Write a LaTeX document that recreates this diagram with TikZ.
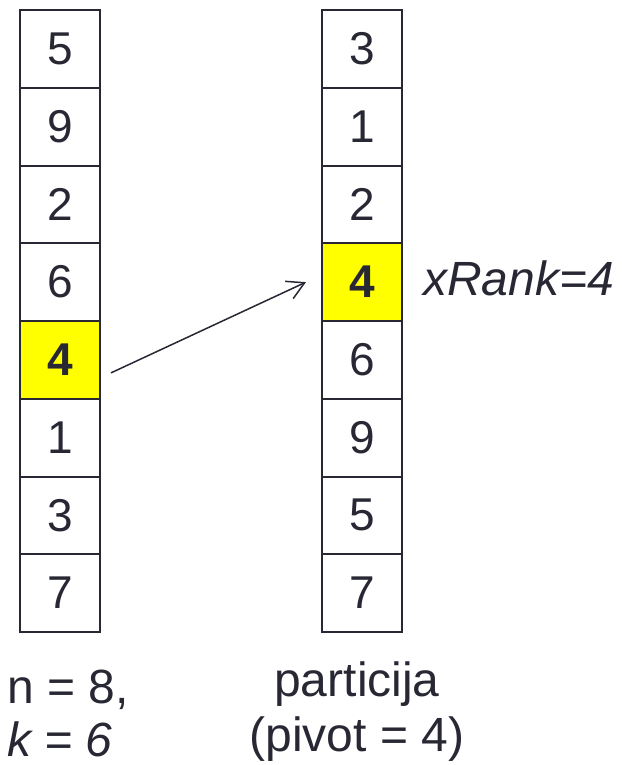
\documentclass[tikz,border=0pt]{standalone}
\usepackage{fontspec}
\setmainfont{Liberation Sans}
\usetikzlibrary{arrows.meta}
\definecolor{ink}{RGB}{40,40,52}
\definecolor{hl}{RGB}{255,255,0}
\begin{document}
\begin{tikzpicture}[x=1pt,y=-1pt,
  cell/.style={draw=ink,line width=2pt,minimum width=80pt,minimum height=77.75pt,inner sep=0pt,text=ink,font=\fontsize{46}{46}\selectfont},
  hot/.style={cell,fill=hl,font=\fontsize{46}{46}\selectfont\bfseries},
  lbl/.style={text=ink,inner sep=0pt,font=\fontsize{48}{48}\selectfont},
  link/.style={draw=ink,line width=1.5pt,-{Straight Barb[length=17pt,width=19pt]}}]
\useasboundingbox (0,0) rectangle (621,765);
\foreach \v/\s [count=\i] in {5/cell,9/cell,2/cell,6/cell,4/hot,1/cell,3/cell,7/cell}
  \node[\s] (L\i) at (60,{10+77.75*(\i-0.5)}) {\v};
\foreach \v/\s [count=\i] in {3/cell,1/cell,2/cell,4/hot,6/cell,9/cell,5/cell,7/cell}
  \node[\s] (R\i) at (362,{10+77.75*(\i-0.5)}) {\v};
\draw[link] ([shift={(10,13)}]L5.east) -- ([xshift=-15pt]R4.west);
\node[lbl,anchor=base west] (xr) at (423,295) {\itshape xRank=4};
\node[lbl,anchor=base west] (n) at (7,703) {n = 8,};
\node[lbl,anchor=base west] (k) at (7,756) {\itshape k = 6};
\node[lbl,anchor=base] (p1) at (357,696) {particija};
\node[lbl,anchor=base] (p2) at (357,751) {(pivot = 4)};
\end{tikzpicture}
\end{document}
